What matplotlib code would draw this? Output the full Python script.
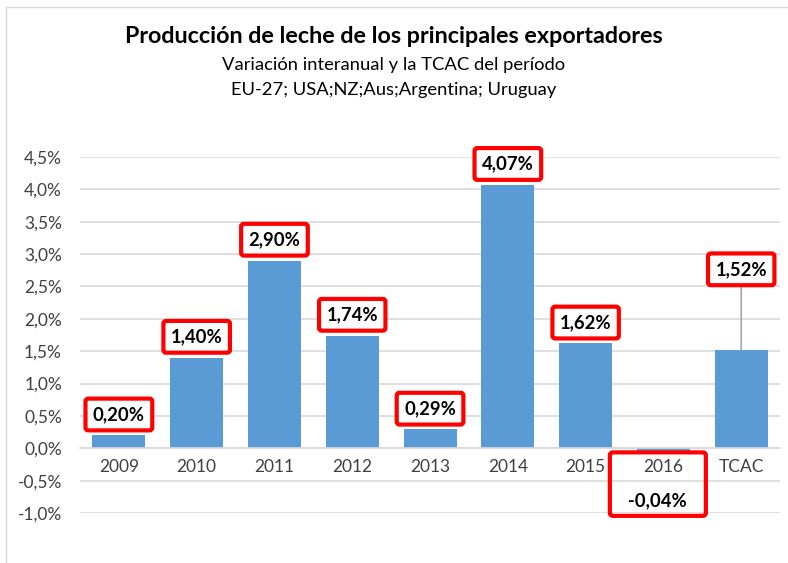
import matplotlib.pyplot as plt
from matplotlib.patches import Rectangle, FancyBboxPatch
from matplotlib.transforms import Bbox

plt.rcParams['font.family'] = ['Lato', 'DejaVu Sans']

categories = ['2009', '2010', '2011', '2012', '2013', '2014', '2015', '2016', 'TCAC']
values = [0.20, 1.40, 2.90, 1.74, 0.29, 4.07, 1.62, -0.04, 1.52]
yticks = [-1.0, -0.5, 0.0, 0.5, 1.0, 1.5, 2.0, 2.5, 3.0, 3.5, 4.0, 4.5]

def pct(v, dec):
    return f'{v:.{dec}f}'.replace('.', ',') + '%'

fig = plt.figure(figsize=(7.88, 5.63), dpi=100)
ax = fig.add_axes([0.1015, 0.0888, 0.8885, 0.6324])

x = range(len(categories))
ax.bar(x, values, width=0.68, color='#5B9BD5', zorder=2)

for s in ['top', 'right', 'left']:
    ax.spines[s].set_visible(False)
ax.spines['bottom'].set_position(('data', 0))
ax.spines['bottom'].set_color('#D9D9D9')
ax.spines['bottom'].set_linewidth(1.2)

ax.set_xlim(-0.5, len(categories) - 0.5)
ax.set_ylim(-1.0, 4.5)
ax.set_yticks(yticks)
ax.set_yticklabels([pct(t, 1) for t in yticks])
ax.yaxis.grid(True, color='#D9D9D9', linewidth=1.2, zorder=0)
ax.tick_params(axis='y', length=0, pad=13, labelsize=12.5, labelcolor='#404040')
ax.set_xticks(list(x))
ax.set_xticklabels(categories)
ax.tick_params(axis='x', length=0, pad=8, labelsize=12.5, labelcolor='#404040')

box = dict(boxstyle='round,pad=0.4,rounding_size=0.15', fc='white', ec='#FF0000', lw=3)
neg = []
for i, v in enumerate(values):
    lab = pct(v, 2)
    if categories[i] == 'TCAC':
        ax.annotate(lab, (i, v), xytext=(0, 58), textcoords='offset points',
                    ha='center', va='center', fontsize=13.3, fontweight='bold',
                    bbox=box, zorder=5, annotation_clip=False,
                    arrowprops=dict(arrowstyle='-', color='#A6A6A6', lw=1.2,
                                    shrinkA=0, shrinkB=0))
    elif v < 0:
        t = ax.annotate(lab, (i, 0), xytext=(-4, -37.5), textcoords='offset points',
                        ha='center', va='center', fontsize=13.3, fontweight='bold',
                        zorder=5, annotation_clip=False)
        neg.append((i, t))
    else:
        ax.annotate(lab, (i, v), xytext=(0, 15), textcoords='offset points',
                    ha='center', va='center', fontsize=13.3, fontweight='bold',
                    bbox=box, zorder=5, annotation_clip=False)

fig.text(0.5, 0.935, 'Producción de leche de los principales exportadores',
         ha='center', va='center', fontsize=16.8, fontweight='bold')
fig.text(0.5, 0.884, 'Variación interanual y la TCAC del período',
         ha='center', va='center', fontsize=13.2)
fig.text(0.5, 0.841, 'EU-27; USA;NZ;Aus;Argentina; Uruguay',
         ha='center', va='center', fontsize=13.2)

# red frame around the negative label, stretched up over the category label
fig.canvas.draw()
r = fig.canvas.get_renderer()
for i, t in neg:
    tb = t.get_window_extent(r)
    bb = Bbox.union([tb, ax.get_xticklabels()[i].get_window_extent(r)])
    cx = (tb.x0 + tb.x1) / 2
    w = 96
    fig.patches.append(FancyBboxPatch((cx - w / 2, bb.y0 - 7), w, bb.height + 14,
                                      boxstyle='round,pad=0,rounding_size=3',
                                      transform=None, fill=False, ec='#FF0000', lw=3))

fig.patches.append(Rectangle((0.007, -0.1), 1.1, 1.087, transform=fig.transFigure,
                             fill=False, ec='#D9D9D9', lw=1))

fig.savefig('out.png', dpi=100)
